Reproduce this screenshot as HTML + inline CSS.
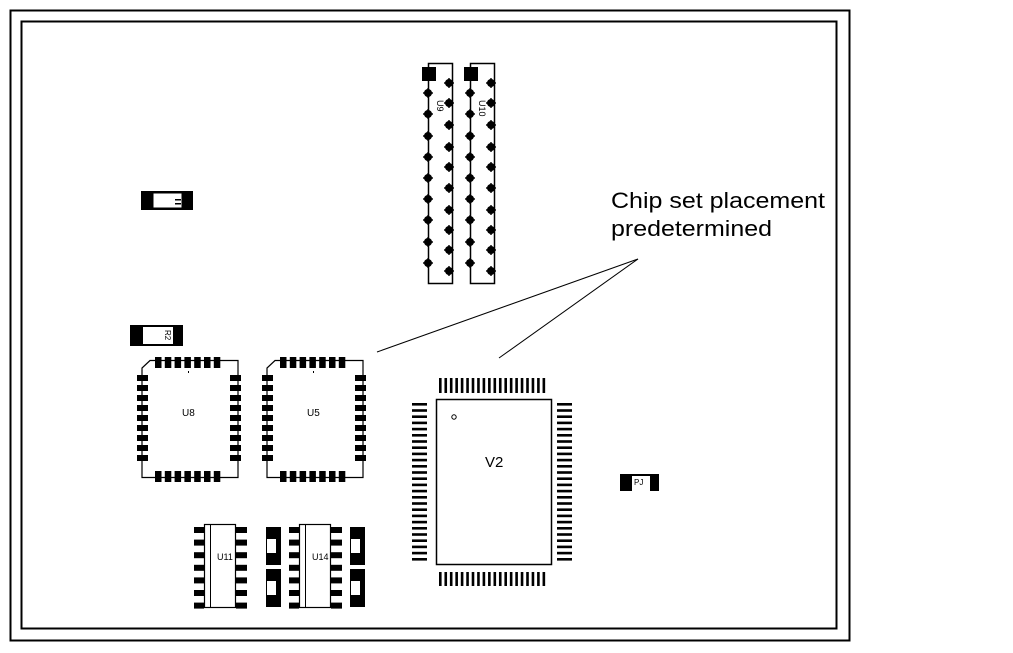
<!DOCTYPE html>
<html><head><meta charset="utf-8"><style>
html,body{margin:0;padding:0;background:#fff;}
svg{display:block;}
text{font-family:"Liberation Sans",sans-serif;}
</style></head><body>
<svg id="s" width="1013" height="653" viewBox="0 0 1013 653">
<rect x="10.5" y="10.5" width="839" height="630" fill="none" stroke="#000" stroke-width="2"/>
<rect x="21.5" y="21.5" width="815" height="607" fill="none" stroke="#000" stroke-width="2"/>
<text x="611" y="208" font-size="22" textLength="214" lengthAdjust="spacingAndGlyphs">Chip set placement</text>
<text x="611" y="236" font-size="22" textLength="161" lengthAdjust="spacingAndGlyphs">predetermined</text>
<line x1="638" y1="259" x2="377" y2="352" stroke="#000"/>
<line x1="638" y1="259" x2="499" y2="358" stroke="#000"/>
<g id="g"></g>
</svg>
<script>
const NS='http://www.w3.org/2000/svg';
const g=document.getElementById('g');
function el(tag,a,name){const e=document.createElementNS(NS,tag);for(const k in a)e.setAttribute(k,a[k]);


g.appendChild(e);return e;}
function R(x,y,w,h,f,name,s){return el('rect',{x:x,y:y,width:w,height:h,fill:f,stroke:s||'none'},name);}
[0,42].forEach((dx,ci)=>{
  el('rect',{x:428.5+dx,y:63.5,width:24,height:220,fill:'none',stroke:'#000','stroke-width':1.5},'connector-body');
  R(422+dx,67,14,14,'#000','connector-pin1-pad');
  [93,114,136,157,178,199,220,242,263].forEach(y=>{el('circle',{cx:428+dx,cy:y,r:4,fill:'#000'},'connector-pin');
    R(423+dx,y-0.7,10,1.4,'#000','pin-spike');R(427.3+dx,y-5,1.4,10,'#000','pin-spike');});
  [83,103,125,147,167,188,210,230,250,271].forEach(y=>{el('circle',{cx:449+dx,cy:y,r:4,fill:'#000'},'connector-pin');
    R(444+dx,y-0.7,10,1.4,'#000','pin-spike');R(448.3+dx,y-5,1.4,10,'#000','pin-spike');});
  const t=el('text',{x:0,y:0,'font-size':9,transform:`translate(${437+dx},${100}) rotate(90)`},'connector-label');t.textContent=ci?'U10':'U9';
});
R(141,191,52,19,'#000','resistor-r1');R(153,193,29,15,'#fff','resistor-r1-body','#000');
R(175,199,6,1.5,'#000','r1-mark');R(175,203,6,1.5,'#000','r1-mark');
R(130,325,53,21,'#000','resistor-r2');R(143,327,30,17,'#fff','resistor-r2-body');
let t=el('text',{x:0,y:0,'font-size':8,transform:'translate(165,330) rotate(90)'},'r2-label');t.textContent='R2';
[[142,'U8'],[267,'U5']].forEach(([x0,lab])=>{
  el('path',{d:`M${x0+8} 360.5 H${x0+96} V477.5 H${x0} V368 Z`,fill:'none',stroke:'#000','stroke-width':1.2},'plcc-outline');
  for(let i=0;i<7;i++){R(x0+13+i*9.8,357,6.5,11,'#000','plcc-pad');R(x0+13+i*9.8,471,6.5,11,'#000','plcc-pad');}
  for(let i=0;i<9;i++){R(x0-5,375+i*10,11,6,'#000','plcc-pad');R(x0+88,375+i*10,11,6,'#000','plcc-pad');}
  R(x0+46,371,1,2,'#000','plcc-mark');
  const tt=el('text',{x:x0+40,y:416,'font-size':10},'plcc-label');tt.textContent=lab;
});
el('rect',{x:436.5,y:399.5,width:115,height:165,fill:'none',stroke:'#000','stroke-width':1.5},'qfp-body');
for(let i=0;i<20;i++){R(439+i*5.45,378,2.6,15,'#000','qfp-pin');R(439+i*5.45,572,2.6,14,'#000','qfp-pin');}
for(let i=0;i<26;i++){R(412,403+i*6.2,15,2.6,'#000','qfp-pin');R(557,403+i*6.2,15,2.6,'#000','qfp-pin');}
el('circle',{cx:454,cy:417,r:2.2,fill:'none',stroke:'#000'},'qfp-pin1-dot');
t=el('text',{x:485,y:467,'font-size':15},'qfp-label');t.textContent='V2';
[[204,'U11'],[299,'U14']].forEach(([x0,lab])=>{
  el('rect',{x:x0+0.5,y:524.5,width:31,height:83,fill:'#fff',stroke:'#000','stroke-width':1.2},'soic-body');
  el('line',{x1:x0+6.5,y1:524,x2:x0+6.5,y2:608,stroke:'#000'},'soic-pin1-line');
  for(let i=0;i<7;i++){R(x0-10,527+i*12.6,10,6,'#000','soic-pin');R(x0+32,527+i*12.6,11,6,'#000','soic-pin');}
  const tt=el('text',{x:x0+13,y:560,'font-size':9},'soic-label');tt.textContent=lab;
});
[[266,527],[266,569],[350,527],[350,569]].forEach(([x,y])=>{R(x,y,15,38,'#000','vertical-resistor');R(x+1,y+12,9,14,'#fff','resistor-body');});
R(620,474,39,17,'#000','component-pj');R(632,476,18,15,'#fff','pj-body');
t=el('text',{x:634,y:485,'font-size':8},'pj-label');t.textContent='PJ';
</script>
</body></html>
